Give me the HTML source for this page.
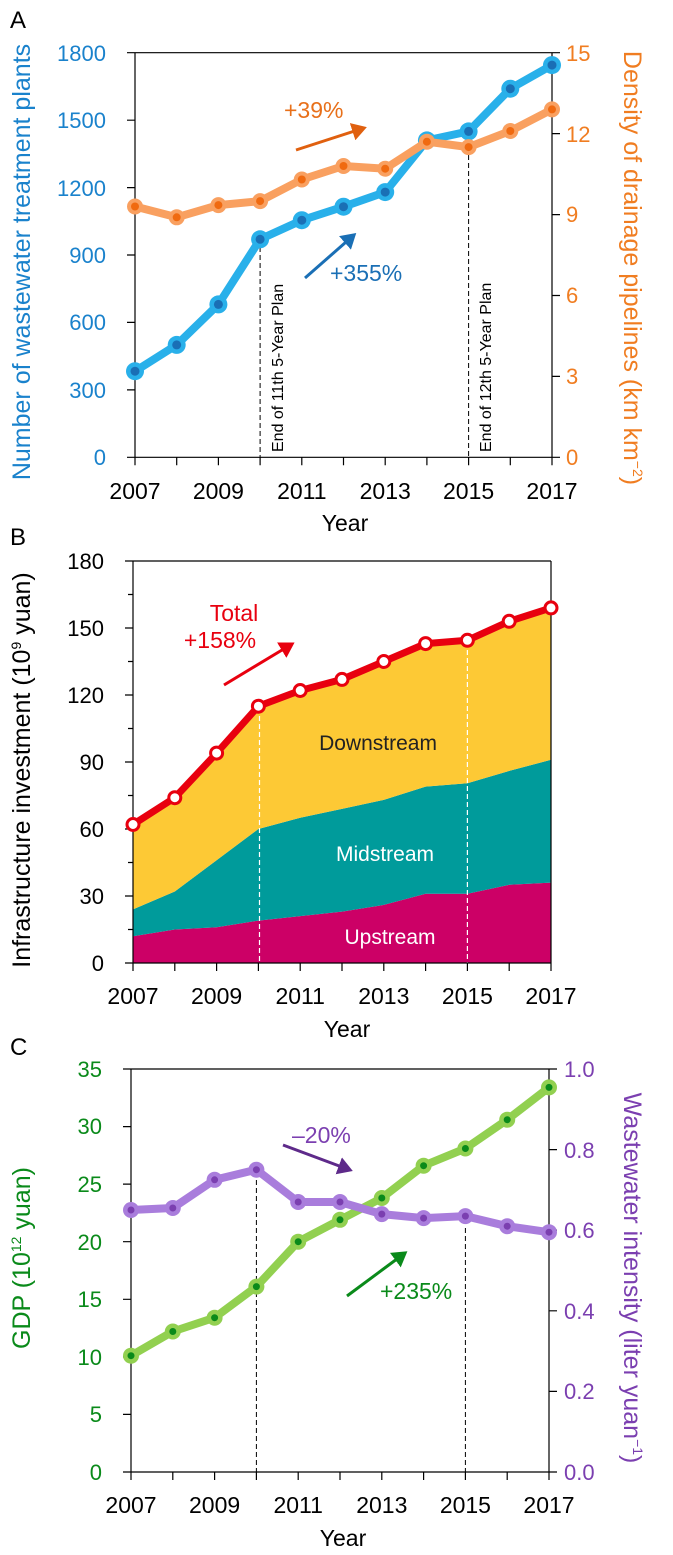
<!DOCTYPE html>
<html><head><meta charset="utf-8"><style>
body{margin:0;background:#fff}
svg{display:block;font-family:"Liberation Sans",Arial,sans-serif}
</style></head><body>
<svg width="673" height="1555" viewBox="0 0 673 1555" xmlns="http://www.w3.org/2000/svg">
<defs>
<marker id="ao" markerWidth="6" markerHeight="6" refX="4" refY="3" orient="auto" markerUnits="strokeWidth"><path d="M0,0 L5,3 L0,6 z" fill="#e0600f"/></marker>
<marker id="ab" markerWidth="6" markerHeight="6" refX="4" refY="3" orient="auto" markerUnits="strokeWidth"><path d="M0,0 L5,3 L0,6 z" fill="#1a6fb5"/></marker>
<marker id="ar" markerWidth="6" markerHeight="6" refX="4" refY="3" orient="auto" markerUnits="strokeWidth"><path d="M0,0 L5,3 L0,6 z" fill="#e8000f"/></marker>
<marker id="ap" markerWidth="6" markerHeight="6" refX="4" refY="3" orient="auto" markerUnits="strokeWidth"><path d="M0,0 L5,3 L0,6 z" fill="#5e2a8a"/></marker>
<marker id="ag" markerWidth="6" markerHeight="6" refX="4" refY="3" orient="auto" markerUnits="strokeWidth"><path d="M0,0 L5,3 L0,6 z" fill="#0a8a1a"/></marker>
</defs>

<!-- ===== Panel A ===== -->
<text x="10" y="28" font-size="24">A</text>
<g stroke="#000" stroke-width="1.2" fill="none">
<path d="M135,52.7 H552 M135,52.7 V457.3 M552,52.7 V457.3 M127,457.3 H560"/>
<path d="M127,389.9H135M127,322.4H135M127,255H135M127,187.6H135M127,120.2H135M127,52.7H135"/>
<path d="M552,376.4H560M552,295.5H560M552,214.6H560M552,133.6H560M552,52.7H560"/>
<path d="M135,457.3v8M176.7,457.3v8M218.4,457.3v8M260.1,457.3v8M301.8,457.3v8M343.5,457.3v8M385.2,457.3v8M426.9,457.3v8M468.6,457.3v8M510.3,457.3v8M552,457.3v8"/>
</g>
<g stroke="#000" stroke-width="1" stroke-dasharray="5,3"><path d="M260.1,239 V457 M468.6,147 V457"/></g>
<g font-size="16" fill="#000">
<text transform="translate(283,452) rotate(-90)">End of 11th 5-Year Plan</text>
<text transform="translate(491,452) rotate(-90)">End of 12th 5-Year Plan</text>
</g>
<g font-size="22" fill="#1a82cc" text-anchor="end">
<text x="106" y="465">0</text><text x="106" y="398">300</text><text x="106" y="330">600</text><text x="106" y="263">900</text><text x="106" y="196">1200</text><text x="106" y="128">1500</text><text x="106" y="61">1800</text>
</g>
<g font-size="22" fill="#f07d21">
<text x="566" y="465">0</text><text x="566" y="384">3</text><text x="566" y="303">6</text><text x="566" y="222">9</text><text x="566" y="142">12</text><text x="566" y="61">15</text>
</g>
<g font-size="23" fill="#000" text-anchor="middle">
<text x="135" y="499">2007</text><text x="218.4" y="499">2009</text><text x="301.8" y="499">2011</text><text x="385.2" y="499">2013</text><text x="468.6" y="499">2015</text><text x="552" y="499">2017</text>
<text x="345" y="531">Year</text>
</g>
<text transform="translate(30,262) rotate(-90)" font-size="25" fill="#1a82cc" text-anchor="middle">Number of wastewater treatment plants</text>
<text transform="translate(624,268) rotate(90)" font-size="25" fill="#f07d21" text-anchor="middle">Density of drainage pipelines (km km<tspan dy="-9" font-size="14">−2</tspan><tspan dy="9">)</tspan></text>
<polyline points="135,371.2 176.7,344.9 218.4,304.4 260.1,239.3 301.8,220.2 343.5,206.7 385.2,192.1 426.9,140.4 468.6,131.4 510.3,88.7 552,65.1" fill="none" stroke="#29b0ea" stroke-width="8" stroke-linejoin="round"/>
<g fill="#29b0ea"><circle cx="135" cy="371.2" r="9"/><circle cx="176.7" cy="344.9" r="9"/><circle cx="218.4" cy="304.4" r="9"/><circle cx="260.1" cy="239.3" r="9"/><circle cx="301.8" cy="220.2" r="9"/><circle cx="343.5" cy="206.7" r="9"/><circle cx="385.2" cy="192.1" r="9"/><circle cx="426.9" cy="140.4" r="9"/><circle cx="468.6" cy="131.4" r="9"/><circle cx="510.3" cy="88.7" r="9"/><circle cx="552" cy="65.1" r="9"/></g>
<g fill="#1a6fb5"><circle cx="135" cy="371.2" r="4.5"/><circle cx="176.7" cy="344.9" r="4.5"/><circle cx="218.4" cy="304.4" r="4.5"/><circle cx="260.1" cy="239.3" r="4.5"/><circle cx="301.8" cy="220.2" r="4.5"/><circle cx="343.5" cy="206.7" r="4.5"/><circle cx="385.2" cy="192.1" r="4.5"/><circle cx="426.9" cy="140.4" r="4.5"/><circle cx="468.6" cy="131.4" r="4.5"/><circle cx="510.3" cy="88.7" r="4.5"/><circle cx="552" cy="65.1" r="4.5"/></g>
<polyline points="135,206.5 176.7,217.3 218.4,205.1 260.1,201.1 301.8,179.5 343.5,166 385.2,168.7 426.9,141.7 468.6,147.1 510.3,131 552,109.4" fill="none" stroke="#f9a060" stroke-width="8" stroke-linejoin="round"/>
<g fill="#f9a060"><circle cx="135" cy="206.5" r="8"/><circle cx="176.7" cy="217.3" r="8"/><circle cx="218.4" cy="205.1" r="8"/><circle cx="260.1" cy="201.1" r="8"/><circle cx="301.8" cy="179.5" r="8"/><circle cx="343.5" cy="166" r="8"/><circle cx="385.2" cy="168.7" r="8"/><circle cx="426.9" cy="141.7" r="8"/><circle cx="468.6" cy="147.1" r="8"/><circle cx="510.3" cy="131" r="8"/><circle cx="552" cy="109.4" r="8"/></g>
<g fill="#f06a10"><circle cx="135" cy="206.5" r="4"/><circle cx="176.7" cy="217.3" r="4"/><circle cx="218.4" cy="205.1" r="4"/><circle cx="260.1" cy="201.1" r="4"/><circle cx="301.8" cy="179.5" r="4"/><circle cx="343.5" cy="166" r="4"/><circle cx="385.2" cy="168.7" r="4"/><circle cx="426.9" cy="141.7" r="4"/><circle cx="468.6" cy="147.1" r="4"/><circle cx="510.3" cy="131" r="4"/><circle cx="552" cy="109.4" r="4"/></g>
<text x="284" y="118" font-size="23" fill="#e8701a">+39%</text>
<line x1="296" y1="150" x2="364" y2="128" stroke="#e0600f" stroke-width="3" marker-end="url(#ao)"/>
<text x="330" y="281" font-size="23" fill="#1a6fb5">+355%</text>
<line x1="305" y1="278" x2="354" y2="235" stroke="#1a6fb5" stroke-width="3" marker-end="url(#ab)"/>

<!-- ===== Panel B ===== -->
<text x="10" y="545" font-size="24">B</text>
<path d="M133,936.2 L174.8,929.5 216.6,927.3 258.4,920.6 300.2,916.1 342,911.6 383.8,904.9 425.6,893.8 467.4,893.8 509.2,884.8 551,882.6 V963 H133 Z" fill="#cc0066"/>
<path d="M133,909.4 L174.8,891.5 216.6,860.3 258.4,829 300.2,817.8 342,808.9 383.8,799.9 425.6,786.6 467.4,783.2 509.2,770.9 551,759.8 L551,882.6 509.2,884.8 467.4,893.8 425.6,893.8 383.8,904.9 342,911.6 300.2,916.1 258.4,920.6 216.6,927.3 174.8,929.5 133,936.2 Z" fill="#009b9b"/>
<path d="M133,824.5 L174.8,797.7 216.6,753.1 258.4,706.2 300.2,690.5 342,679.4 383.8,661.5 425.6,643.6 467.4,640.3 509.2,621.3 551,607.9 L551,759.8 509.2,770.9 467.4,783.2 425.6,786.6 383.8,799.9 342,808.9 300.2,817.8 258.4,829 216.6,860.3 174.8,891.5 133,909.4 Z" fill="#fdc935"/>
<g stroke="#fff" stroke-width="1.2" stroke-dasharray="5,3"><path d="M259.5,708 V963 M467.4,642 V963"/></g>
<g stroke="#000" stroke-width="1.2" fill="none">
<path d="M133,561 H551 M133,561 V963 M551,561 V963 M125,963 H551"/>
<path d="M125,896H133M125,829H133M125,762H133M125,695H133M125,628H133M125,561H133M128,929.5H133M128,862.5H133M128,795.5H133M128,728.5H133M128,661.5H133M128,594.5H133"/>
<path d="M133,963v8M174.8,963v8M216.6,963v8M258.4,963v8M300.2,963v8M342,963v8M383.8,963v8M425.6,963v8M467.4,963v8M509.2,963v8M551,963v8"/>
</g>
<polyline points="133,824.5 174.8,797.7 216.6,753.1 258.4,706.2 300.2,690.5 342,679.4 383.8,661.5 425.6,643.6 467.4,640.3 509.2,621.3 551,607.9" fill="none" stroke="#e8000f" stroke-width="7" stroke-linejoin="round"/>
<g fill="#fff" stroke="#e8000f" stroke-width="3"><circle cx="133" cy="824.5" r="6"/><circle cx="174.8" cy="797.7" r="6"/><circle cx="216.6" cy="753.1" r="6"/><circle cx="258.4" cy="706.2" r="6"/><circle cx="300.2" cy="690.5" r="6"/><circle cx="342" cy="679.4" r="6"/><circle cx="383.8" cy="661.5" r="6"/><circle cx="425.6" cy="643.6" r="6"/><circle cx="467.4" cy="640.3" r="6"/><circle cx="509.2" cy="621.3" r="6"/><circle cx="551" cy="607.9" r="6"/></g>
<g font-size="22" fill="#000" text-anchor="end">
<text x="104" y="971">0</text><text x="104" y="904">30</text><text x="104" y="837">60</text><text x="104" y="770">90</text><text x="104" y="703">120</text><text x="104" y="636">150</text><text x="104" y="569">180</text>
</g>
<g font-size="23" fill="#000" text-anchor="middle">
<text x="133" y="1004">2007</text><text x="216.6" y="1004">2009</text><text x="300.2" y="1004">2011</text><text x="383.8" y="1004">2013</text><text x="467.4" y="1004">2015</text><text x="551" y="1004">2017</text>
<text x="347" y="1037">Year</text>
</g>
<text transform="translate(30,770) rotate(-90)" font-size="25" fill="#000" text-anchor="middle">Infrastructure investment (10<tspan dy="-9" font-size="14">9</tspan><tspan dy="9"> yuan)</tspan></text>
<g font-size="21" text-anchor="middle">
<text x="378" y="750" fill="#222">Downstream</text>
<text x="385" y="861" fill="#fff">Midstream</text>
<text x="390" y="944" fill="#fff">Upstream</text>
</g>
<text x="234" y="621" font-size="23" fill="#e8000f" text-anchor="middle">Total</text>
<text x="220" y="648" font-size="23" fill="#e8000f" text-anchor="middle">+158%</text>
<line x1="224" y1="685" x2="292" y2="644" stroke="#e8000f" stroke-width="3" marker-end="url(#ar)"/>

<!-- ===== Panel C ===== -->
<text x="10" y="1055" font-size="24">C</text>
<g stroke="#000" stroke-width="1.2" fill="none">
<path d="M131,1069 H549 M131,1069 V1472 M549,1069 V1472 M123,1472 H557"/>
<path d="M123,1414.4H131M123,1356.9H131M123,1299.3H131M123,1241.7H131M123,1184.1H131M123,1126.6H131M123,1069H131"/>
<path d="M549,1391.4H557M549,1310.8H557M549,1230.2H557M549,1149.6H557M549,1069H557"/>
<path d="M131,1472v8M172.8,1472v8M214.6,1472v8M256.4,1472v8M298.2,1472v8M340,1472v8M381.8,1472v8M423.6,1472v8M465.4,1472v8M507.2,1472v8M549,1472v8"/>
</g>
<g stroke="#000" stroke-width="1" stroke-dasharray="5,3"><path d="M256.4,1172 V1472 M465.4,1228 V1472"/></g>
<polyline points="131,1355.7 172.8,1331.5 214.6,1317.7 256.4,1286.6 298.2,1241.7 340,1219.8 381.8,1198 423.6,1165.7 465.4,1148.5 507.2,1119.7 549,1087.4" fill="none" stroke="#92d050" stroke-width="8" stroke-linejoin="round"/>
<g fill="#92d050"><circle cx="131" cy="1355.7" r="8"/><circle cx="172.8" cy="1331.5" r="8"/><circle cx="214.6" cy="1317.7" r="8"/><circle cx="256.4" cy="1286.6" r="8"/><circle cx="298.2" cy="1241.7" r="8"/><circle cx="340" cy="1219.8" r="8"/><circle cx="381.8" cy="1198" r="8"/><circle cx="423.6" cy="1165.7" r="8"/><circle cx="465.4" cy="1148.5" r="8"/><circle cx="507.2" cy="1119.7" r="8"/><circle cx="549" cy="1087.4" r="8"/></g>
<g fill="#0a8a1a"><circle cx="131" cy="1355.7" r="3.5"/><circle cx="172.8" cy="1331.5" r="3.5"/><circle cx="214.6" cy="1317.7" r="3.5"/><circle cx="256.4" cy="1286.6" r="3.5"/><circle cx="298.2" cy="1241.7" r="3.5"/><circle cx="340" cy="1219.8" r="3.5"/><circle cx="381.8" cy="1198" r="3.5"/><circle cx="423.6" cy="1165.7" r="3.5"/><circle cx="465.4" cy="1148.5" r="3.5"/><circle cx="507.2" cy="1119.7" r="3.5"/><circle cx="549" cy="1087.4" r="3.5"/></g>
<polyline points="131,1210 172.8,1208 214.6,1179.8 256.4,1169.7 298.2,1202 340,1202 381.8,1214.1 423.6,1218.1 465.4,1216.1 507.2,1226.2 549,1232.2" fill="none" stroke="#a97ddc" stroke-width="8" stroke-linejoin="round"/>
<g fill="#a97ddc"><circle cx="131" cy="1210" r="8"/><circle cx="172.8" cy="1208" r="8"/><circle cx="214.6" cy="1179.8" r="8"/><circle cx="256.4" cy="1169.7" r="8"/><circle cx="298.2" cy="1202" r="8"/><circle cx="340" cy="1202" r="8"/><circle cx="381.8" cy="1214.1" r="8"/><circle cx="423.6" cy="1218.1" r="8"/><circle cx="465.4" cy="1216.1" r="8"/><circle cx="507.2" cy="1226.2" r="8"/><circle cx="549" cy="1232.2" r="8"/></g>
<g fill="#7b3fb0"><circle cx="131" cy="1210" r="3.5"/><circle cx="172.8" cy="1208" r="3.5"/><circle cx="214.6" cy="1179.8" r="3.5"/><circle cx="256.4" cy="1169.7" r="3.5"/><circle cx="298.2" cy="1202" r="3.5"/><circle cx="340" cy="1202" r="3.5"/><circle cx="381.8" cy="1214.1" r="3.5"/><circle cx="423.6" cy="1218.1" r="3.5"/><circle cx="465.4" cy="1216.1" r="3.5"/><circle cx="507.2" cy="1226.2" r="3.5"/><circle cx="549" cy="1232.2" r="3.5"/></g>
<g font-size="22" fill="#0a8a1a" text-anchor="end">
<text x="102" y="1480">0</text><text x="102" y="1422">5</text><text x="102" y="1365">10</text><text x="102" y="1307">15</text><text x="102" y="1250">20</text><text x="102" y="1192">25</text><text x="102" y="1134">30</text><text x="102" y="1077">35</text>
</g>
<g font-size="22" fill="#7b3fb0">
<text x="564" y="1480">0.0</text><text x="564" y="1399">0.2</text><text x="564" y="1319">0.4</text><text x="564" y="1238">0.6</text><text x="564" y="1158">0.8</text><text x="564" y="1077">1.0</text>
</g>
<g font-size="23" fill="#000" text-anchor="middle">
<text x="131" y="1513">2007</text><text x="214.6" y="1513">2009</text><text x="298.2" y="1513">2011</text><text x="381.8" y="1513">2013</text><text x="465.4" y="1513">2015</text><text x="549" y="1513">2017</text>
<text x="343" y="1546">Year</text>
</g>
<text transform="translate(30,1258) rotate(-90)" font-size="25" fill="#0a8a1a" text-anchor="middle">GDP (10<tspan dy="-9" font-size="14">12</tspan><tspan dy="9"> yuan)</tspan></text>
<text transform="translate(624,1278) rotate(90)" font-size="25" fill="#7b3fb0" text-anchor="middle">Wastewater intensity (liter yuan<tspan dy="-9" font-size="14">−1</tspan><tspan dy="9">)</tspan></text>
<text x="292" y="1143" font-size="23" fill="#7b3fb0">–20%</text>
<line x1="283" y1="1145" x2="350" y2="1170" stroke="#5e2a8a" stroke-width="3" marker-end="url(#ap)"/>
<text x="380" y="1299" font-size="23" fill="#0a8a1a">+235%</text>
<line x1="347" y1="1296" x2="405" y2="1253" stroke="#0a8a1a" stroke-width="3" marker-end="url(#ag)"/>
</svg>
</body></html>
